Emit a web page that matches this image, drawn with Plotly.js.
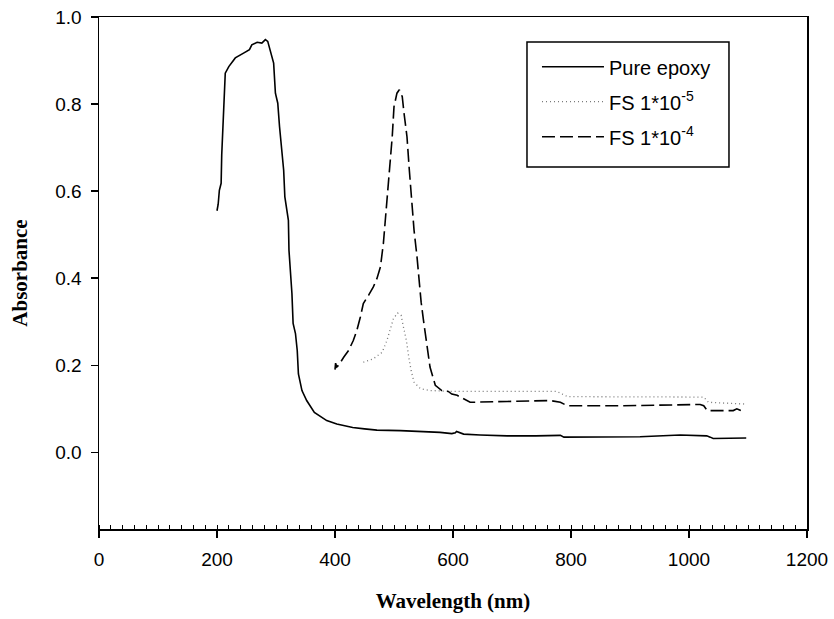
<!DOCTYPE html>
<html>
<head>
<meta charset="utf-8">
<script src="https://cdn.plot.ly/plotly-3.0.1.min.js"></script>
<style>html,body{margin:0;padding:0;background:#fff;}#chart{width:834px;height:619px;}</style>
</head>
<body>
<div id="chart"></div>
<script>
// Pure epoxy
const epoxyX = [200, 202, 204, 207, 208, 209.5, 210.7, 212, 214, 220, 231, 245, 255, 259, 268, 276, 282, 286, 290, 296, 299, 303, 306, 309, 310, 313, 315, 319, 321, 322, 324, 327, 329, 333, 336, 338, 344, 352, 365, 386, 403, 430, 450, 471, 511, 540, 578, 598, 604, 606, 618, 646, 692, 740, 782, 788, 850, 917, 985, 1030, 1036, 1041, 1097];
const epoxyY = [0.555, 0.57, 0.602, 0.618, 0.683, 0.741, 0.764, 0.817, 0.871, 0.886, 0.906, 0.917, 0.925, 0.936, 0.942, 0.940, 0.948, 0.944, 0.921, 0.894, 0.825, 0.802, 0.748, 0.710, 0.687, 0.648, 0.587, 0.556, 0.533, 0.464, 0.426, 0.365, 0.296, 0.273, 0.234, 0.180, 0.142, 0.119, 0.092, 0.073, 0.065, 0.057, 0.054, 0.051, 0.050, 0.049, 0.046, 0.043, 0.045, 0.048, 0.042, 0.040, 0.038, 0.038, 0.039, 0.035, 0.036, 0.036, 0.040, 0.038, 0.035, 0.032, 0.033];
// FS 1*10^-5
const fs5X = [448, 465, 480, 488, 494, 499, 506, 512, 516, 521, 525, 529, 534, 545, 562, 601, 663, 776, 794, 884, 1025, 1033, 1095];
const fs5Y = [0.207, 0.215, 0.230, 0.257, 0.284, 0.307, 0.320, 0.315, 0.288, 0.257, 0.219, 0.188, 0.161, 0.146, 0.142, 0.140, 0.140, 0.140, 0.128, 0.127, 0.127, 0.115, 0.111];
// FS 1*10^-4
const fs4X = [400, 401, 403, 406, 415, 423, 431, 437, 443, 448, 457, 465, 471, 477, 482, 488, 492, 497, 500, 505, 509, 514, 517, 522, 526, 530, 534, 539, 543, 546, 550, 556, 561, 570, 581, 592, 598, 607, 629, 692, 765, 782, 794, 884, 1019, 1025, 1031, 1075, 1081, 1095];
const fs4Y = [0.19, 0.205, 0.196, 0.2, 0.219, 0.234, 0.257, 0.280, 0.311, 0.342, 0.361, 0.380, 0.399, 0.426, 0.480, 0.572, 0.648, 0.725, 0.794, 0.825, 0.833, 0.817, 0.779, 0.725, 0.648, 0.572, 0.510, 0.449, 0.388, 0.345, 0.303, 0.250, 0.196, 0.154, 0.142, 0.140, 0.134, 0.131, 0.115, 0.117, 0.119, 0.115, 0.107, 0.107, 0.110, 0.107, 0.096, 0.096, 0.100, 0.092];

const names = ['Pure epoxy', 'FS 1*10<sup>-5</sup>', 'FS 1*10<sup>-4</sup>'];
const xTicks = [0, 200, 400, 600, 800, 1000, 1200];
const yTicks = [0.0, 0.2, 0.4, 0.6, 0.8, 1.0];

const traces = [
  {x: epoxyX, y: epoxyY, name: names[0], legendgroup: 'a', mode: 'lines', line: {color: '#000', width: 1.6}},
  {x: fs5X, y: fs5Y, name: names[1], legendgroup: 'b', mode: 'lines', line: {color: '#777', width: 1.3, dash: '1px,3px'}},
  {x: fs4X, y: fs4Y, name: names[2], legendgroup: 'c', mode: 'lines', line: {color: '#000', width: 1.6, dash: '13px,5px'}}
];

const layout = {
  width: 834, height: 619,
  margin: {l: 99, r: 27, t: 17, b: 90},
  paper_bgcolor: '#fff', plot_bgcolor: '#fff',
  font: {family: '"Liberation Sans", Arial, sans-serif', size: 19, color: '#000'},
  showlegend: true,
  legend: {
    x: 0.6186, y: 0.941, xanchor: 'left', yanchor: 'top',
    borderwidth: 0, bgcolor: 'rgba(0,0,0,0)',
    traceorder: 'grouped', tracegroupgap: 6,
    font: {family: '"Liberation Sans", Arial, sans-serif', size: 20, color: '#000'},
    itemwidth: 62
  },
  shapes: [
    {type: 'rect', xref: 'paper', yref: 'paper', x0: 0.6045, x1: 0.8898, y0: 0.707, y1: 0.951,
     line: {color: '#000', width: 1.5}, fillcolor: 'rgba(0,0,0,0)', layer: 'above'}
  ],
  xaxis: {
    range: [0, 1200], tickvals: xTicks, ticktext: xTicks.map(String),
    ticks: 'outside', ticklen: 7, tickwidth: 1.5, tickcolor: '#000', ticklabelstandoff: 6,
    minor: {dtick: 20, ticks: 'inside', ticklen: 4, tickwidth: 1, tickcolor: '#000'},
    showline: true, linecolor: '#000', linewidth: 1.5, mirror: true,
    showgrid: false, zeroline: false,
    title: {text: 'Wavelength (nm)', font: {family: '"Liberation Serif", "Times New Roman", serif', size: 21, weight: 'bold'}, standoff: 24}
  },
  yaxis: {
    range: [-0.176, 1.0], tickvals: yTicks, ticktext: yTicks.map(v => v.toFixed(1)),
    ticks: 'outside', ticklen: 7, tickwidth: 1.5, tickcolor: '#000', ticklabelstandoff: 5,
    showline: true, linecolor: '#000', linewidth: 1.5, mirror: true,
    showgrid: false, zeroline: false,
    title: {text: 'Absorbance', font: {family: '"Liberation Serif", "Times New Roman", serif', size: 21, weight: 'bold'}, standoff: 22}
  }
};

Plotly.newPlot('chart', traces, layout, {displayModeBar: false, staticPlot: true});
</script>
</body>
</html>
